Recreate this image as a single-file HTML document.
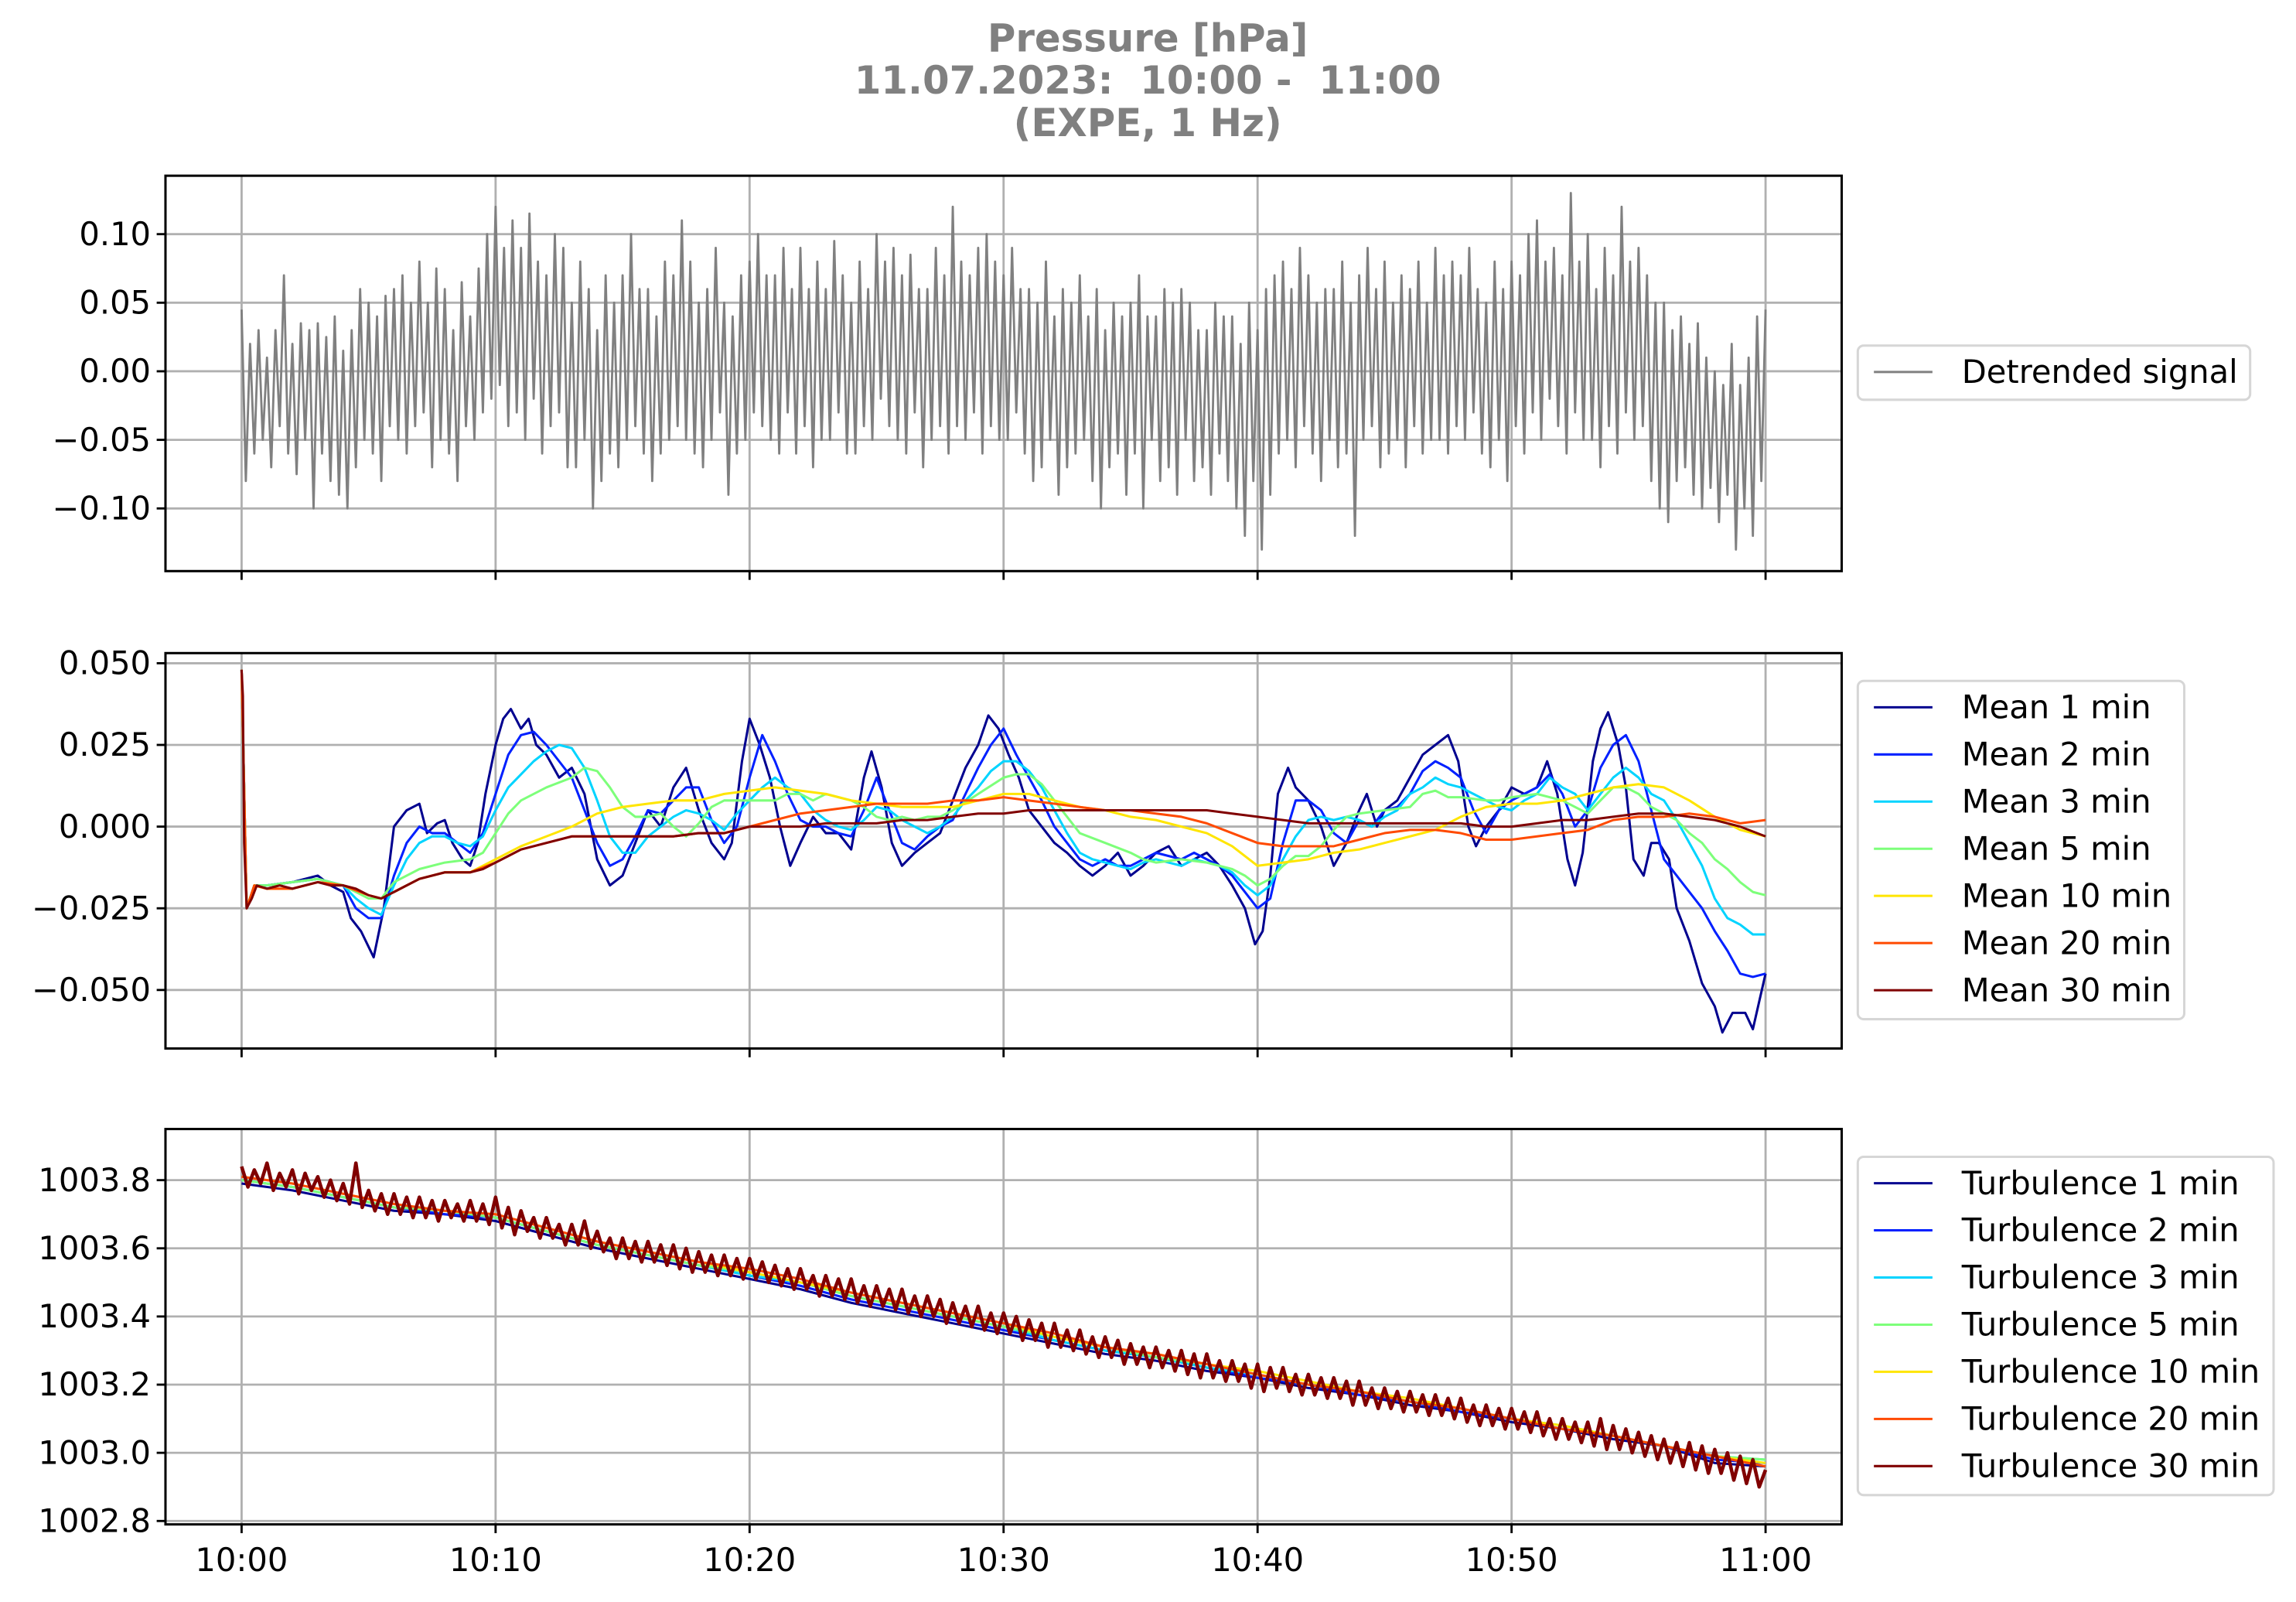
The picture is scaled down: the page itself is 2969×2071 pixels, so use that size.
<!DOCTYPE html>
<html><head><meta charset="utf-8"><title>Pressure chart</title>
<style>
html,body{margin:0;padding:0;background:#fff;}
svg{display:block;}
text{font-family:"DejaVu Sans","Liberation Sans",sans-serif;}
</style></head>
<body>
<svg id="chart" xmlns="http://www.w3.org/2000/svg" width="2969" height="2071" viewBox="0 0 1568.3 1094">
<rect x="0" y="0" width="1568.3" height="1094" fill="#fff"/>
<g fill="#808080" font-weight="bold" font-size="26.3" text-anchor="middle">
<text x="784" y="35" xml:space="preserve">Pressure [hPa]</text>
<text x="784" y="64" xml:space="preserve">11.07.2023:  10:00 -  11:00</text>
<text x="784" y="93" xml:space="preserve">(EXPE, 1 Hz)</text>
</g>
</svg>
<script>
// ---------- DATA ----------
const xTickMinutes=[0,10,20,30,40,50,60];
const xTickLabels=["10:00","10:10","10:20","10:30","10:40","10:50","11:00"];
const p1Ticks=[0.10,0.05,0.00,-0.05,-0.10];
const p2Ticks=[0.050,0.025,0.000,-0.025,-0.050];
const p3Ticks=[1003.8,1003.6,1003.4,1003.2,1003.0,1002.8];
// detrended signal, 6 samples per minute
const signal=[
.045,-.08,.02,-.06,.03,-.05, .01,-.07,.03,-.04,.07,-.06, .02,-.075,.035,-.05,.03,-.1, .035,-.06,.025,-.08,.04,-.09,
.015,-.1,.03,-.07,.06,-.05, .05,-.06,.04,-.08,.055,-.04, .06,-.05,.07,-.06,.05,-.04, .08,-.03,.05,-.07,.075,-.05,
.06,-.06,.03,-.08,.065,-.04, .04,-.05,.075,-.03,.1,-.02, .12,-.01,.09,-.04,.11,-.03, .09,-.05,.115,-.02,.08,-.06,
.07,-.04,.1,-.03,.09,-.07, .05,-.07,.08,-.05,.06,-.1, .03,-.08,.07,-.06,.05,-.07, .07,-.05,.1,-.04,.06,-.06,
.06,-.08,.04,-.06,.08,-.05, .07,-.04,.11,-.05,.08,-.06, .05,-.07,.06,-.05,.09,-.03, .05,-.09,.04,-.06,.07,-.05,
.08,-.03,.1,-.04,.07,-.05, .07,-.06,.09,-.03,.06,-.06, .09,-.04,.06,-.07,.08,-.05, .06,-.05,.095,-.03,.07,-.06,
.05,-.06,.08,-.04,.06,-.05, .1,-.02,.08,-.04,.09,-.05, .07,-.06,.085,-.03,.06,-.07, .06,-.05,.09,-.04,.07,-.06,
.12,-.04,.08,-.05,.07,-.03, .09,-.06,.1,-.04,.08,-.05, .07,-.05,.09,-.03,.06,-.06, .06,-.08,.05,-.07,.08,-.05,
.04,-.09,.06,-.07,.05,-.06, .07,-.05,.04,-.08,.06,-.1, .03,-.07,.05,-.06,.04,-.09, .05,-.06,.07,-.1,.04,-.05,
.04,-.08,.06,-.07,.05,-.09, .06,-.05,.05,-.08,.03,-.07, .03,-.09,.05,-.06,.04,-.08, .04,-.1,.02,-.12,.05,-.08,
.03,-.13,.06,-.09,.07,-.06, .08,-.05,.06,-.07,.09,-.04, .07,-.06,.05,-.08,.06,-.05, .06,-.07,.08,-.06,.05,-.12,
.07,-.05,.09,-.04,.06,-.07, .08,-.06,.05,-.05,.07,-.07, .06,-.04,.08,-.06,.05,-.05, .09,-.05,.07,-.06,.08,-.04,
.07,-.05,.09,-.03,.06,-.06, .05,-.07,.08,-.05,.06,-.08, .08,-.04,.07,-.06,.1,-.03, .11,-.05,.08,-.02,.09,-.04,
.07,-.06,.13,-.03,.08,-.05, .1,-.05,.06,-.07,.09,-.04, .07,-.06,.12,-.03,.08,-.05, .09,-.04,.07,-.08,.05,-.1,
.05,-.11,.03,-.08,.04,-.07, .02,-.09,.035,-.1,.01,-.085, .0,-.11,-.01,-.09,.02,-.13, -.01,-.1,.01,-.12,.04,-.08, .045];

const mean1Min=[0,0.2,0.5,1,2,3,3.5,4,4.3,4.7,5.2,5.6,6,6.5,7,7.3,7.7,8,8.3,8.7,9,9.3,9.6,10,10.3,10.6,11,11.3,11.6,12,12.5,13,13.5,14,14.5,15,15.5,16,16.5,17,17.5,18,18.5,19,19.3,19.7,20,20.4,20.8,21.2,21.6,22,22.5,23,23.5,24,24.5,24.8,25.2,25.6,26,26.5,27,27.5,28,28.5,29,29.4,29.8,30.2,30.6,31,31.5,32,32.5,33,33.5,34,34.5,35,35.5,36,36.5,37,37.5,38,38.5,39,39.5,39.9,40.2,40.5,40.8,41.2,41.5,42,42.5,43,43.5,44,44.3,44.7,45,45.5,46,46.5,47,47.5,47.9,48.3,48.6,49,49.5,50,50.5,51,51.4,51.8,52.2,52.5,52.8,53.2,53.5,53.8,54.2,54.5,54.8,55.2,55.5,55.8,56.2,56.5,57,57.5,58,58.3,58.7,59.2,59.5,60];
const mean1Val=[0.048,-0.025,-0.018,-0.018,-0.017,-0.015,-0.018,-0.02,-0.028,-0.032,-0.040,-0.025,0.0,0.005,0.007,-0.002,0.001,0.002,-0.005,-0.01,-0.012,-0.005,0.01,0.025,0.033,0.036,0.030,0.033,0.025,0.022,0.015,0.018,0.01,-0.01,-0.018,-0.015,-0.005,0.005,0.0,0.012,0.018,0.005,-0.005,-0.01,-0.005,0.02,0.033,0.025,0.015,0.0,-0.012,-0.005,0.003,-0.002,-0.002,-0.007,0.015,0.023,0.012,-0.005,-0.012,-0.008,-0.005,-0.002,0.008,0.018,0.025,0.034,0.03,0.022,0.015,0.005,0.0,-0.005,-0.008,-0.012,-0.015,-0.012,-0.008,-0.015,-0.012,-0.008,-0.006,-0.012,-0.01,-0.008,-0.012,-0.018,-0.025,-0.036,-0.032,-0.015,0.01,0.018,0.012,0.008,0.0,-0.012,-0.005,0.005,0.01,0.0,0.005,0.008,0.015,0.022,0.025,0.028,0.02,0.0,-0.006,0.0,0.005,0.012,0.01,0.012,0.02,0.01,-0.01,-0.018,-0.008,0.02,0.03,0.035,0.025,0.012,-0.01,-0.015,-0.005,-0.005,-0.01,-0.025,-0.035,-0.048,-0.055,-0.063,-0.057,-0.057,-0.062,-0.045];

const mean2Min=[0,0.2,0.5,1,2,3,4,4.5,5,5.5,6,6.5,7,7.5,8,8.5,9,9.5,10,10.5,11,11.5,12,12.5,13,13.5,14,14.5,15,15.5,16,16.5,17,17.5,18,18.5,19,19.5,20,20.5,21,21.5,22,22.5,23,23.5,24,24.5,25,25.5,26,26.5,27,27.5,28,28.5,29,29.5,30,30.5,31,31.5,32,32.5,33,33.5,34,34.5,35,35.5,36,36.5,37,37.5,38,38.5,39,39.5,40,40.5,41,41.5,42,42.5,43,43.5,44,44.5,45,45.5,46,46.5,47,47.5,48,48.5,49,49.5,50,50.5,51,51.5,52,52.5,53,53.5,54,54.5,55,55.5,56,56.5,57,57.5,58,58.5,59,59.5,60];
const mean2Val=[0.048,-0.025,-0.018,-0.018,-0.017,-0.016,-0.018,-0.025,-0.028,-0.028,-0.015,-0.005,0.0,-0.002,-0.002,-0.005,-0.008,-0.002,0.01,0.022,0.028,0.029,0.025,0.02,0.015,0.005,-0.005,-0.012,-0.01,-0.003,0.005,0.004,0.008,0.012,0.012,0.002,-0.005,0.0,0.015,0.028,0.02,0.01,0.002,0.0,0.0,-0.002,-0.003,0.005,0.015,0.005,-0.005,-0.007,-0.003,0.0,0.002,0.01,0.018,0.025,0.03,0.022,0.015,0.008,0.0,-0.005,-0.01,-0.012,-0.01,-0.012,-0.012,-0.01,-0.008,-0.009,-0.01,-0.008,-0.01,-0.012,-0.015,-0.02,-0.025,-0.022,-0.005,0.008,0.008,0.005,-0.002,-0.005,0.002,0.0,0.005,0.006,0.01,0.017,0.02,0.018,0.015,0.005,-0.002,0.005,0.008,0.01,0.012,0.016,0.01,0.0,0.005,0.018,0.025,0.028,0.02,0.005,-0.01,-0.015,-0.02,-0.025,-0.032,-0.038,-0.045,-0.046,-0.045];

const mean3Min=[0,0.2,0.5,1,2,3,4,4.5,5,5.5,6,6.5,7,7.5,8,8.5,9,9.5,10,10.5,11,11.5,12,12.5,13,13.5,14,14.5,15,15.5,16,16.5,17,17.5,18,18.5,19,19.5,20,20.5,21,21.5,22,22.5,23,23.5,24,24.5,25,25.5,26,26.5,27,27.5,28,28.5,29,29.5,30,30.5,31,31.5,32,32.5,33,33.5,34,34.5,35,35.5,36,36.5,37,37.5,38,38.5,39,39.5,40,40.5,41,41.5,42,42.5,43,43.5,44,44.5,45,45.5,46,46.5,47,47.5,48,48.5,49,49.5,50,50.5,51,51.5,52,52.5,53,53.5,54,54.5,55,55.5,56,56.5,57,57.5,58,58.5,59,59.5,60];
const mean3Val=[0.048,-0.025,-0.018,-0.018,-0.017,-0.016,-0.018,-0.022,-0.025,-0.027,-0.018,-0.01,-0.005,-0.003,-0.003,-0.005,-0.006,-0.003,0.005,0.012,0.016,0.02,0.023,0.025,0.024,0.018,0.008,-0.003,-0.008,-0.008,-0.003,0.0,0.003,0.005,0.004,0.002,-0.001,0.004,0.008,0.012,0.015,0.012,0.01,0.005,0.002,0.0,-0.001,0.002,0.006,0.005,0.002,0.0,-0.002,0.0,0.003,0.008,0.012,0.017,0.02,0.02,0.017,0.012,0.005,-0.002,-0.008,-0.01,-0.011,-0.012,-0.013,-0.011,-0.01,-0.011,-0.012,-0.01,-0.011,-0.012,-0.014,-0.018,-0.021,-0.018,-0.01,-0.003,0.002,0.003,0.002,0.003,0.002,0.0,0.003,0.005,0.01,0.012,0.015,0.013,0.012,0.01,0.008,0.006,0.005,0.008,0.01,0.015,0.012,0.01,0.005,0.01,0.015,0.018,0.015,0.01,0.008,0.002,-0.005,-0.012,-0.022,-0.028,-0.03,-0.033,-0.033];

const mean5Min=[0,0.2,0.5,1,2,3,4,5,5.5,6,7,8,9,9.5,10,10.5,11,12,13,13.5,14,14.5,15,15.5,16,16.5,17,17.5,18,18.5,19,20,21,21.5,22,22.5,23,24,24.5,25,25.5,26,26.5,27,27.5,28,29,30,30.5,31,31.5,32,32.5,33,34,35,35.5,36,37,38,38.5,39,39.5,40,40.5,41,41.5,42,42.5,43,43.5,44,45,46,46.5,47,47.5,48,49,49.5,50,51,52,52.5,53,53.5,54,54.5,55,55.5,56,56.5,57,57.5,58,58.5,59,59.5,60];
const mean5Val=[0.048,-0.025,-0.018,-0.018,-0.017,-0.016,-0.018,-0.022,-0.022,-0.017,-0.013,-0.011,-0.01,-0.008,-0.002,0.004,0.008,0.012,0.015,0.018,0.017,0.012,0.006,0.003,0.003,0.004,0.0,-0.003,0.001,0.006,0.008,0.008,0.008,0.01,0.01,0.008,0.01,0.008,0.006,0.003,0.002,0.003,0.002,0.003,0.003,0.005,0.01,0.015,0.016,0.016,0.013,0.008,0.003,-0.002,-0.005,-0.008,-0.01,-0.011,-0.01,-0.011,-0.012,-0.013,-0.015,-0.018,-0.016,-0.012,-0.009,-0.009,-0.006,-0.001,0.003,0.004,0.005,0.006,0.01,0.011,0.009,0.009,0.008,0.008,0.009,0.01,0.008,0.006,0.004,0.008,0.012,0.012,0.01,0.006,0.004,0.002,-0.002,-0.005,-0.01,-0.013,-0.017,-0.02,-0.021];

const mean10Min=[0,0.2,0.5,1,2,3,4,5,5.5,6,7,8,9,10,11,12,13,14,15,16,17,18,19,20,21,22,23,24,25,26,27,28,29,30,31,32,33,34,35,36,37,38,39,40,41,42,43,44,45,46,47,48,49,50,51,52,53,54,55,56,57,58,59,60];
const mean10Val=[0.048,-0.025,-0.018,-0.019,-0.019,-0.017,-0.018,-0.021,-0.022,-0.02,-0.016,-0.014,-0.014,-0.01,-0.006,-0.003,0.0,0.004,0.006,0.007,0.008,0.008,0.010,0.011,0.012,0.011,0.010,0.008,0.007,0.006,0.006,0.006,0.008,0.010,0.010,0.008,0.006,0.005,0.003,0.002,0.0,-0.002,-0.006,-0.012,-0.011,-0.010,-0.008,-0.007,-0.005,-0.003,-0.001,0.003,0.006,0.007,0.007,0.008,0.010,0.012,0.013,0.012,0.008,0.003,-0.001,-0.003];

const mean20Min=[0,0.2,0.5,1,2,3,4,5,5.5,6,7,8,9,10,11,12,13,14,15,16,17,18,19,20,21,22,23,24,25,26,27,28,29,30,31,32,33,34,35,36,37,38,39,40,41,42,43,44,45,46,47,48,49,50,51,52,53,54,55,56,57,58,59,60];
const mean20Val=[0.048,-0.025,-0.018,-0.019,-0.019,-0.017,-0.018,-0.021,-0.022,-0.02,-0.016,-0.014,-0.014,-0.011,-0.007,-0.005,-0.003,-0.003,-0.003,-0.003,-0.003,-0.002,-0.002,0.0,0.002,0.004,0.005,0.006,0.007,0.007,0.007,0.008,0.008,0.009,0.008,0.007,0.006,0.005,0.005,0.004,0.003,0.001,-0.002,-0.005,-0.006,-0.006,-0.006,-0.004,-0.002,-0.001,-0.001,-0.002,-0.004,-0.004,-0.003,-0.002,-0.001,0.002,0.003,0.003,0.004,0.003,0.001,0.002];

const mean30Min=[0,0.05,0.1,0.2,0.4,0.6,1,1.5,2,2.5,3,3.5,4,4.5,5,5.5,6,6.5,7,8,9,9.5,10,10.5,11,12,13,14,15,16,17,18,19,20,21,22,23,24,25,26,27,28,29,30,31,32,33,34,35,36,37,38,39,40,41,42,43,44,45,46,47,48,49,50,51,52,53,54,55,56,57,58,59,60];
const mean30Val=[0.048,0.04,-0.005,-0.025,-0.022,-0.018,-0.019,-0.018,-0.019,-0.018,-0.017,-0.018,-0.018,-0.019,-0.021,-0.022,-0.02,-0.018,-0.016,-0.014,-0.014,-0.013,-0.011,-0.009,-0.007,-0.005,-0.003,-0.003,-0.003,-0.003,-0.003,-0.002,-0.002,0.0,0.0,0.0,0.001,0.001,0.001,0.002,0.002,0.003,0.004,0.004,0.005,0.005,0.005,0.005,0.005,0.005,0.005,0.005,0.004,0.003,0.002,0.001,0.001,0.001,0.001,0.001,0.001,0.001,0.0,0.0,0.001,0.002,0.002,0.003,0.004,0.004,0.003,0.002,0.0,-0.003];

// turbulence: 30 min at 4 samples per minute, others every 2 minutes
const turb30=[
1003.84,1003.78,1003.83,1003.79,1003.85,1003.77,1003.82,1003.78,1003.83,1003.76,1003.82,1003.77,1003.81,1003.75,1003.80,1003.74,
1003.79,1003.73,1003.85,1003.72,1003.77,1003.71,1003.76,1003.70,1003.76,1003.70,1003.75,1003.69,1003.75,1003.69,1003.74,1003.68,
1003.74,1003.69,1003.73,1003.68,1003.74,1003.68,1003.73,1003.67,1003.75,1003.66,1003.72,1003.64,1003.71,1003.65,1003.69,1003.63,
1003.69,1003.63,1003.67,1003.61,1003.67,1003.61,1003.68,1003.60,1003.65,1003.59,1003.63,1003.57,1003.63,1003.57,1003.62,1003.56,
1003.62,1003.56,1003.61,1003.55,1003.61,1003.54,1003.60,1003.53,1003.59,1003.53,1003.58,1003.52,1003.58,1003.52,1003.57,1003.51,
1003.57,1003.51,1003.56,1003.50,1003.55,1003.49,1003.54,1003.48,1003.54,1003.48,1003.52,1003.46,1003.52,1003.46,1003.51,1003.45,
1003.51,1003.44,1003.49,1003.43,1003.49,1003.43,1003.48,1003.42,1003.48,1003.41,1003.46,1003.40,1003.46,1003.40,1003.45,1003.38,
1003.44,1003.38,1003.43,1003.37,1003.43,1003.36,1003.41,1003.35,1003.41,1003.35,1003.40,1003.33,1003.39,1003.33,1003.38,1003.31,
1003.38,1003.31,1003.36,1003.30,1003.36,1003.29,1003.34,1003.28,1003.34,1003.28,1003.33,1003.26,1003.32,1003.26,1003.31,1003.25,
1003.31,1003.25,1003.30,1003.24,1003.30,1003.23,1003.29,1003.22,1003.29,1003.22,1003.27,1003.21,1003.27,1003.21,1003.26,1003.19,
1003.26,1003.18,1003.25,1003.19,1003.25,1003.18,1003.23,1003.17,1003.23,1003.17,1003.22,1003.16,1003.22,1003.16,1003.21,1003.14,
1003.21,1003.14,1003.19,1003.13,1003.19,1003.13,1003.18,1003.12,1003.18,1003.12,1003.17,1003.11,1003.17,1003.11,1003.16,1003.10,
1003.16,1003.09,1003.14,1003.08,1003.14,1003.08,1003.13,1003.07,1003.13,1003.07,1003.12,1003.06,1003.12,1003.05,1003.10,1003.04,
1003.10,1003.04,1003.09,1003.03,1003.09,1003.02,1003.10,1003.01,1003.08,1003.01,1003.07,1003.00,1003.06,1002.99,1003.05,1002.98,
1003.04,1002.97,1003.03,1002.96,1003.03,1002.95,1003.02,1002.94,1003.01,1002.94,1003.00,1002.92,1002.99,1002.91,1002.98,1002.90,1002.95];
const turb1=[1003.79,1003.77,1003.74,1003.71,1003.70,1003.68,1003.64,1003.60,1003.57,1003.54,1003.51,1003.48,1003.44,1003.41,1003.38,1003.35,1003.32,1003.29,1003.27,1003.24,1003.22,1003.19,1003.17,1003.14,1003.12,1003.09,1003.07,1003.04,1003.02,1002.97,1002.96];
const turb2=[1003.80,1003.78,1003.75,1003.72,1003.70,1003.69,1003.65,1003.61,1003.58,1003.55,1003.52,1003.49,1003.45,1003.42,1003.39,1003.36,1003.33,1003.30,1003.28,1003.25,1003.22,1003.20,1003.17,1003.15,1003.12,1003.10,1003.07,1003.05,1003.02,1002.98,1002.97];
const turb3=[1003.80,1003.78,1003.75,1003.72,1003.71,1003.69,1003.65,1003.61,1003.58,1003.55,1003.52,1003.50,1003.46,1003.43,1003.40,1003.37,1003.33,1003.30,1003.28,1003.25,1003.23,1003.20,1003.18,1003.15,1003.13,1003.10,1003.08,1003.05,1003.02,1002.99,1002.98];
const turb5=[1003.80,1003.78,1003.75,1003.72,1003.71,1003.69,1003.65,1003.61,1003.58,1003.55,1003.53,1003.50,1003.46,1003.43,1003.40,1003.37,1003.34,1003.31,1003.28,1003.26,1003.23,1003.20,1003.18,1003.15,1003.13,1003.10,1003.08,1003.05,1003.02,1002.99,1002.98];
const turb10=[1003.81,1003.79,1003.76,1003.73,1003.71,1003.70,1003.66,1003.62,1003.59,1003.56,1003.53,1003.50,1003.47,1003.44,1003.41,1003.38,1003.34,1003.31,1003.29,1003.26,1003.24,1003.21,1003.18,1003.16,1003.13,1003.10,1003.08,1003.05,1003.02,1002.99,1002.97];
const turb20=[1003.81,1003.79,1003.76,1003.73,1003.71,1003.70,1003.66,1003.62,1003.59,1003.56,1003.54,1003.51,1003.47,1003.44,1003.41,1003.38,1003.35,1003.31,1003.29,1003.26,1003.23,1003.20,1003.18,1003.15,1003.13,1003.10,1003.07,1003.05,1003.02,1002.99,1002.96];

// ---------- DRAWING ----------
const NS='http://www.w3.org/2000/svg';
const svg=document.getElementById('chart');
function mk(tag,attrs,parent){const e=document.createElementNS(NS,tag);for(const k in attrs)e.setAttribute(k,attrs[k]);parent.appendChild(e);return e;}
const AX0=113, AX1=1258;
const FS=22;
function xs(m){return 165+m*(1041/60);}
const panels=[
 {name:'detrended-panel',y0:120,y1:390,min:-0.1457,max:0.1426,ticks:p1Ticks,dec:2},
 {name:'mean-panel',y0:446,y1:716,min:-0.0679,max:0.0531,ticks:p2Ticks,dec:3},
 {name:'turbulence-panel',y0:771,y1:1041,min:1002.79,max:1003.95,ticks:p3Ticks,dec:1}
];
function ys(p,v){return p.y1-(v-p.min)/(p.max-p.min)*(p.y1-p.y0);}
function fmt(v,d){const s=Math.abs(v).toFixed(d);return (v<0?'\u2212':'')+s;}

panels.forEach((p,pi)=>{
  const g=mk('g',{},svg);
  
  
  const cp=mk('clipPath',{id:'clip'+pi},g);
  mk('rect',{x:AX0,y:p.y0,width:AX1-AX0,height:p.y1-p.y0},cp);
  xTickMinutes.forEach(m=>{
    const l=mk('line',{x1:xs(m),x2:xs(m),y1:p.y0,y2:p.y1,stroke:'#b0b0b0','stroke-width':1.5},g);
    
    
    const t=mk('line',{x1:xs(m),x2:xs(m),y1:p.y1,y2:p.y1+6,stroke:'#000','stroke-width':1.5},g);
    
    
  });
  p.ticks.forEach(v=>{
    const y=ys(p,v);
    const l=mk('line',{x1:AX0,x2:AX1,y1:y,y2:y,stroke:'#b0b0b0','stroke-width':1.5},g);
    
    
    const t=mk('line',{x1:AX0-6,x2:AX0,y1:y,y2:y,stroke:'#000','stroke-width':1.5},g);
    
    
    const tx=mk('text',{x:AX0-10,y:y+7.5,'font-size':FS,'text-anchor':'end',fill:'#000'},g);
    tx.textContent=fmt(v,p.dec);
    
    
  });
  p.g=mk('g',{'clip-path':'url(#clip'+pi+')'},g);
  p.frame=g;
});

function drawLine(p,xsArr,vals,color,w,name){
  let d='';
  for(let i=0;i<vals.length;i++){d+=(i?'L':'M')+xs(xsArr[i]).toFixed(2)+' '+ys(p,vals[i]).toFixed(2);}
  const path=mk('path',{d:d,fill:'none',stroke:color,'stroke-width':w,'stroke-linejoin':'round'},p.g);
  
  
}
function evenMinutes(n,step){const a=[];for(let i=0;i<n;i++)a.push(i*step);return a;}

drawLine(panels[0],evenMinutes(signal.length,1/6),signal,'#808080',1.5,'detrended-signal-line');
const meanSeries=[
 [mean1Min,mean1Val,'#00008f','mean-1-min-line'],
 [mean2Min,mean2Val,'#0020ff','mean-2-min-line'],
 [mean3Min,mean3Val,'#00d4ff','mean-3-min-line'],
 [mean5Min,mean5Val,'#7dff7a','mean-5-min-line'],
 [mean10Min,mean10Val,'#ffe500','mean-10-min-line'],
 [mean20Min,mean20Val,'#ff4a00','mean-20-min-line'],
 [mean30Min,mean30Val,'#800000','mean-30-min-line']
];
meanSeries.forEach(s=>drawLine(panels[1],s[0],s[1],s[2],1.6,s[3]));
const turbSeries=[
 [turb1,'#00008f','turbulence-1-min-line'],
 [turb2,'#0020ff','turbulence-2-min-line'],
 [turb3,'#00d4ff','turbulence-3-min-line'],
 [turb5,'#7dff7a','turbulence-5-min-line'],
 [turb10,'#ffe500','turbulence-10-min-line'],
 [turb20,'#ff4a00','turbulence-20-min-line']
];
turbSeries.forEach(s=>drawLine(panels[2],evenMinutes(s[0].length,2),s[0],s[1],1.6,s[2]));
drawLine(panels[2],evenMinutes(turb30.length,0.25),turb30,'#800000',2.4,'turbulence-30-min-line');

panels.forEach(p=>{
  const r=mk('rect',{x:AX0,y:p.y0,width:AX1-AX0,height:p.y1-p.y0,fill:'none',stroke:'#000','stroke-width':1.6},p.frame);
  
  
});
xTickMinutes.forEach((m,i)=>{
  const t=mk('text',{x:xs(m),y:1073,'font-size':FS,'text-anchor':'middle',fill:'#000'},svg);
  t.textContent=xTickLabels[i];
  
  
});

function legend(name,x0,y0,w,h,items){
  const g=mk('g',{},svg);
  
  
  mk('rect',{x:x0,y:y0,width:w,height:h,rx:4,fill:'#fff','fill-opacity':0.8,stroke:'#d6d6d6','stroke-width':1.6},g);
  items.forEach((it,i)=>{
    const y=y0+18+i*32.2;
    const l=mk('line',{x1:x0+11,x2:x0+51,y1:y,y2:y,stroke:it[1],'stroke-width':1.6},g);
    
    
    const t=mk('text',{x:x0+71,y:y+7.5,'font-size':FS,fill:'#000'},g);
    t.textContent=it[0];
    
    
  });
}
legend('detrended-legend',1269,236,268,37,[['Detrended signal','#808080']]);
legend('mean-legend',1269,465,223,231,[['Mean 1 min','#00008f'],['Mean 2 min','#0020ff'],['Mean 3 min','#00d4ff'],['Mean 5 min','#7dff7a'],['Mean 10 min','#ffe500'],['Mean 20 min','#ff4a00'],['Mean 30 min','#800000']]);
legend('turbulence-legend',1269,790,284,231,[['Turbulence 1 min','#00008f'],['Turbulence 2 min','#0020ff'],['Turbulence 3 min','#00d4ff'],['Turbulence 5 min','#7dff7a'],['Turbulence 10 min','#ffe500'],['Turbulence 20 min','#ff4a00'],['Turbulence 30 min','#800000']]);
</script>
</body></html>
